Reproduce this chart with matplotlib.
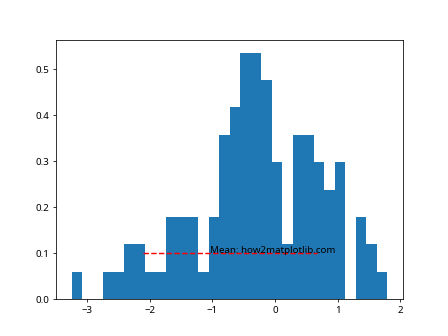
import numpy as np
import matplotlib
matplotlib.use("Agg")
import matplotlib.pyplot as plt

# Histogram data: 30 bins between data min and max, counts per bin (N=100)
data_min = -3.243
data_max = 1.796
counts = [1, 0, 0, 1, 1, 2, 2, 1, 1, 3, 3, 3, 1, 3, 6,
          7, 9, 9, 8, 5, 2, 6, 6, 5, 4, 5, 0, 3, 2, 1]
line_y = 0.1
line_xmin = -2.10
line_xmax = 0.67
label_x = -1.03
label_text = "Mean: how2matplotlib.com"

edges = np.linspace(data_min, data_max, len(counts) + 1)
centers = (edges[:-1] + edges[1:]) / 2

plt.rcParams['font.family'] = ['Noto Sans', 'DejaVu Sans']
fig, ax = plt.subplots(figsize=(6.4, 4.8), dpi=70)
ax.hist(centers, bins=edges, weights=counts, density=True, color='#1f77b4')
ax.hlines(line_y, line_xmin, line_xmax, colors='red', linestyles='--')
ax.text(label_x, line_y, label_text, va='baseline', ha='left')
fig.savefig("out.png", dpi=70)
